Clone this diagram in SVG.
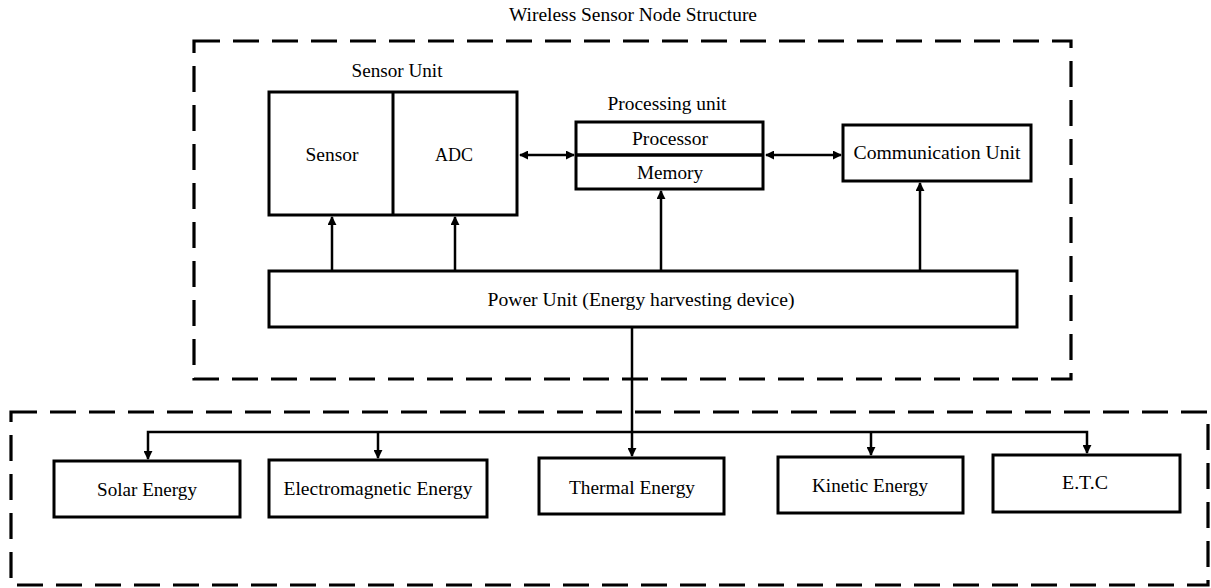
<svg xmlns="http://www.w3.org/2000/svg" width="1211" height="588" viewBox="0 0 1211 588">
<style>
text{font-family:'Liberation Serif','Times New Roman','DejaVu Serif',serif;fill:#000;text-anchor:middle;font-size:19px}
.box{fill:#fff;stroke:#000;stroke-width:3}
.dash{fill:none;stroke:#000;stroke-width:3.2;stroke-dasharray:26 13}
.ln{fill:none;stroke:#000;stroke-width:2.5}
</style>
<defs>
<marker id="ah" viewBox="0 0 10 10" refX="9" refY="5" markerWidth="9" markerHeight="9" markerUnits="userSpaceOnUse" orient="auto-start-reverse">
<path d="M0,0 L10,5 L0,10 Z" fill="#000"/>
</marker>
</defs>
<rect width="1211" height="588" fill="#fff"/>
<text x="633" y="21" font-size="16" textLength="248" lengthAdjust="spacingAndGlyphs">Wireless Sensor Node Structure</text>
<g id="node-structure"><rect class="dash" x="194" y="41" width="877" height="338"/></g>
<g id="sources-frame"><rect class="dash" x="11" y="412" width="1197" height="173"/></g>
<g id="sensor-unit">
<text x="397" y="77" textLength="91" lengthAdjust="spacingAndGlyphs">Sensor Unit</text>
<rect class="box" x="269" y="92" width="248" height="123"/>
<line x1="393" y1="92" x2="393" y2="215" stroke="#000" stroke-width="3"/>
<text x="332" y="161" textLength="53" lengthAdjust="spacingAndGlyphs">Sensor</text>
<text x="454" y="161" textLength="38" lengthAdjust="spacingAndGlyphs">ADC</text>
</g>
<g id="processing-unit">
<text x="667" y="110" textLength="119" lengthAdjust="spacingAndGlyphs">Processing unit</text>
<rect class="box" x="576" y="122" width="187" height="67"/>
<line x1="576" y1="155" x2="763" y2="155" stroke="#000" stroke-width="3.5"/>
<text x="670" y="145" textLength="76" lengthAdjust="spacingAndGlyphs">Processor</text>
<text x="670" y="179" textLength="66" lengthAdjust="spacingAndGlyphs">Memory</text>
</g>
<g id="communication-unit">
<rect class="box" x="843" y="125" width="188" height="56"/>
<text x="937" y="159" textLength="167" lengthAdjust="spacingAndGlyphs">Communication Unit</text>
</g>
<g id="power-unit">
<rect class="box" x="269" y="271" width="748" height="56"/>
<text x="641" y="306" textLength="307" lengthAdjust="spacingAndGlyphs">Power Unit (Energy harvesting device)</text>
</g>
<g id="solar">
<rect class="box" x="54" y="461" width="186" height="56"/>
<text x="147" y="496" textLength="100" lengthAdjust="spacingAndGlyphs">Solar Energy</text>
</g>
<g id="electromagnetic">
<rect class="box" x="269" y="460" width="218" height="57"/>
<text x="378" y="495" textLength="189" lengthAdjust="spacingAndGlyphs">Electromagnetic Energy</text>
</g>
<g id="thermal">
<rect class="box" x="539" y="458" width="185" height="56"/>
<text x="632" y="494" textLength="126" lengthAdjust="spacingAndGlyphs">Thermal Energy</text>
</g>
<g id="kinetic">
<rect class="box" x="778" y="457" width="185" height="56"/>
<text x="870" y="492" textLength="116" lengthAdjust="spacingAndGlyphs">Kinetic Energy</text>
</g>
<g id="etc">
<rect class="box" x="993" y="455" width="187" height="57"/>
<text x="1085" y="489" textLength="46" lengthAdjust="spacingAndGlyphs">E.T.C</text>
</g>
<g id="connectors">
<line class="ln" x1="520" y1="155" x2="574" y2="155" marker-start="url(#ah)" marker-end="url(#ah)"/>
<line class="ln" x1="766" y1="155" x2="841" y2="155" marker-start="url(#ah)" marker-end="url(#ah)"/>
<line class="ln" x1="332" y1="271" x2="332" y2="217" marker-end="url(#ah)"/>
<line class="ln" x1="455" y1="271" x2="455" y2="217" marker-end="url(#ah)"/>
<line class="ln" x1="661" y1="271" x2="661" y2="191" marker-end="url(#ah)"/>
<line class="ln" x1="920" y1="271" x2="920" y2="183" marker-end="url(#ah)"/>
<line class="ln" x1="632" y1="327" x2="632" y2="456" marker-end="url(#ah)"/>
<polyline class="ln" points="148,459 148,432 1087,432 1087,453" marker-start="url(#ah)" marker-end="url(#ah)"/>
<line class="ln" x1="378" y1="432" x2="378" y2="458" marker-end="url(#ah)"/>
<line class="ln" x1="871" y1="432" x2="871" y2="455" marker-end="url(#ah)"/>
</g>
</svg>
